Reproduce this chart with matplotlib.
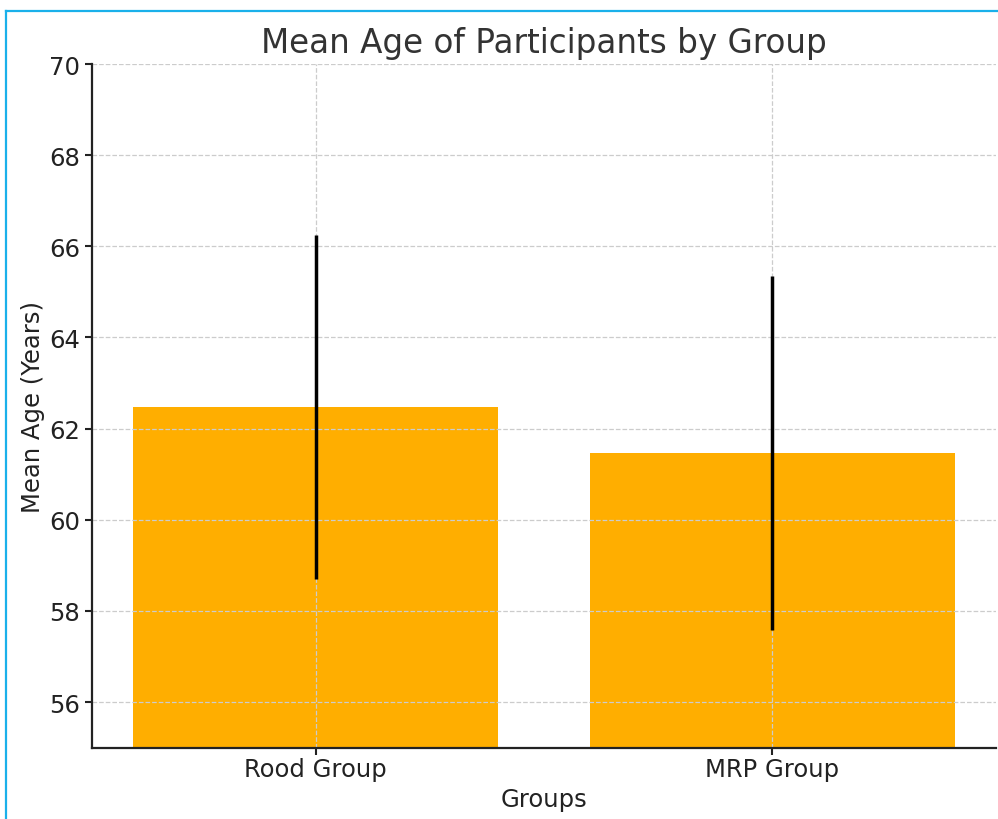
import matplotlib.pyplot as plt
from matplotlib.lines import Line2D

groups = ["Rood Group", "MRP Group"]
mean_age = [62.47, 61.46]
sd_age = [3.77, 3.88]

fig = plt.figure(figsize=(9.98, 8.2), dpi=100)
ax = fig.add_axes([0.0922, 0.087, 0.906, 0.8337])

ax.bar(groups, mean_age, yerr=sd_age, color="#FFAE00", width=0.8,
       error_kw={"elinewidth": 2.5, "ecolor": "black", "capsize": 0})
ax.set_ylim(55, 70)
ax.grid(True, linestyle="--", color="#cccccc", linewidth=0.9)

ax.set_title("Mean Age of Participants by Group", fontsize=23.5, color="#333333", pad=9)
ax.set_xlabel("Groups", fontsize=17.5, color="#222222", labelpad=4)
ax.set_ylabel("Mean Age (Years)", fontsize=17.5, color="#222222", labelpad=3)
ax.tick_params(labelsize=17.5, colors="#222222", width=1.5, length=5)
ax.tick_params(axis="x", pad=2)
for s in ["top", "right"]:
    ax.spines[s].set_visible(False)
for s in ["left", "bottom"]:
    ax.spines[s].set_linewidth(1.6)
    ax.spines[s].set_color("#222222")

# frame of the original screenshot
fig.add_artist(Line2D([0.0065, 0.0065], [0, 0.9855], transform=fig.transFigure, color="#1AB0EA", linewidth=1.6))
fig.add_artist(Line2D([0.0065, 1], [0.9855, 0.9855], transform=fig.transFigure, color="#1AB0EA", linewidth=1.6))

fig.savefig("out.png", dpi=100)
